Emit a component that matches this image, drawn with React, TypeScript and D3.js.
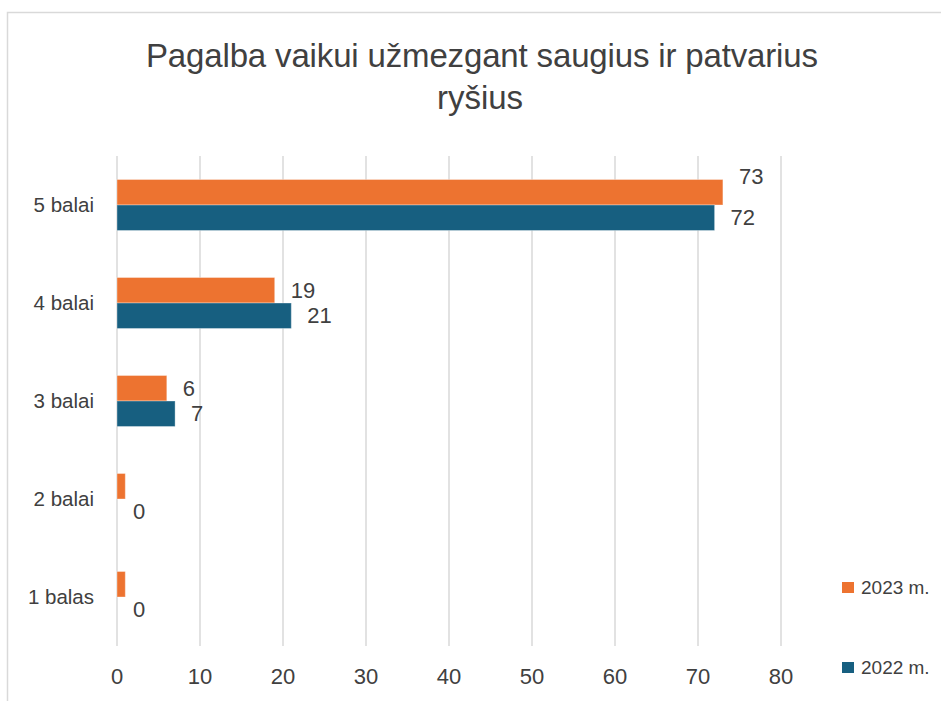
import React from "react";
import * as d3 from "d3";

const categories = ["5 balai", "4 balai", "3 balai", "2 balai", "1 balas"];
const series2023 = [73, 19, 6, 1, 1];
const series2022 = [72, 21, 7, 0, 0];
const labels2023 = ["73", "19", "6", "", ""];
const labels2022 = ["72", "21", "7", "0", "0"];
const xTicks = [0, 10, 20, 30, 40, 50, 60, 70, 80];
const seriesNames = ["2023 m.", "2022 m."];
const titleLines = ["Pagalba vaikui užmezgant saugius ir patvarius", "ryšius"];

const ORANGE = "#ED7330";
const BLUE = "#175F80";
const TEXT = "#404040";
const GRID = "#D9D9D9";
const FONT = "'Liberation Sans', Arial, sans-serif";

export default function App() {
  const W = 941;
  const H = 701;
  const x = d3.scaleLinear().domain([0, 80]).range([117, 781]);
  const y = d3.scaleBand<string>().domain(categories).range([156, 646]).paddingInner(0).paddingOuter(0);
  const groupH = 51;
  const sub = d3.scaleBand<string>().domain(["2023", "2022"]).range([0, groupH]);
  const off = (y.bandwidth() - groupH) / 2;

  const series = [
    { key: "2023", values: series2023, labels: labels2023, color: ORANGE },
    { key: "2022", values: series2022, labels: labels2022, color: BLUE },
  ];

  // label of the longest orange bar is lifted above the bar (as in the reference)
  const lift = (key: string, i: number) => (key === "2023" && i === 0 ? -16 : 0);

  return (
    <svg width={W} height={H} style={{ position: "absolute", left: 0, top: 0 }} fontFamily={FONT}>
      <rect x={0} y={0} width={W} height={H} fill="#fff" />
      <rect x={7.5} y={12.5} width={W + 20} height={H + 20} fill="none" stroke={GRID} strokeWidth={1.5} />
      <text x={482} y={67} textAnchor="middle" fontSize={33} fill={TEXT} textLength={672} lengthAdjust="spacing">
        {titleLines[0]}
      </text>
      <text x={480} y={109} textAnchor="middle" fontSize={33} fill={TEXT} textLength={86} lengthAdjust="spacing">
        {titleLines[1]}
      </text>
      {xTicks.map((t) => (
        <line key={"g" + t} x1={x(t)} x2={x(t)} y1={156} y2={646} stroke={GRID} strokeWidth={1.5} />
      ))}
      {xTicks.map((t) => (
        <text key={"t" + t} x={x(t)} y={676} dy="0.35em" textAnchor="middle" fontSize={22} fill={TEXT}>
          {t}
        </text>
      ))}
      {categories.map((c) => (
        <text key={"c" + c} x={94} y={(y(c) as number) + y.bandwidth() / 2} dy="0.35em" textAnchor="end" fontSize={20.5} fill={TEXT}>
          {c}
        </text>
      ))}
      {series.map((s) =>
        categories.map((c, i) => {
          const y0 = (y(c) as number) + off + (sub(s.key) as number);
          const w = x(s.values[i]) - x(0);
          return (
            <g key={s.key + c}>
              {w > 0 && (
                <rect x={x(0)} y={y0} width={w} height={sub.bandwidth()} fill={s.color} stroke="#ffffff" strokeOpacity={0.35} strokeWidth={1} />
              )}
              {s.labels[i] !== "" && (
                <text x={x(s.values[i]) + 16} y={y0 + sub.bandwidth() / 2 + lift(s.key, i)} dy="0.35em" fontSize={22} fill={TEXT}>
                  {s.labels[i]}
                </text>
              )}
            </g>
          );
        })
      )}
      {series.map((s, i) => {
        const ly = 587.5 + i * 80;
        return (
          <g key={"l" + s.key}>
            <rect x={842} y={ly - 5.5} width={12} height={11} fill={s.color} />
            <text x={861} y={ly} dy="0.35em" fontSize={19} fill={TEXT}>
              {seriesNames[i]}
            </text>
          </g>
        );
      })}
    </svg>
  );
}
